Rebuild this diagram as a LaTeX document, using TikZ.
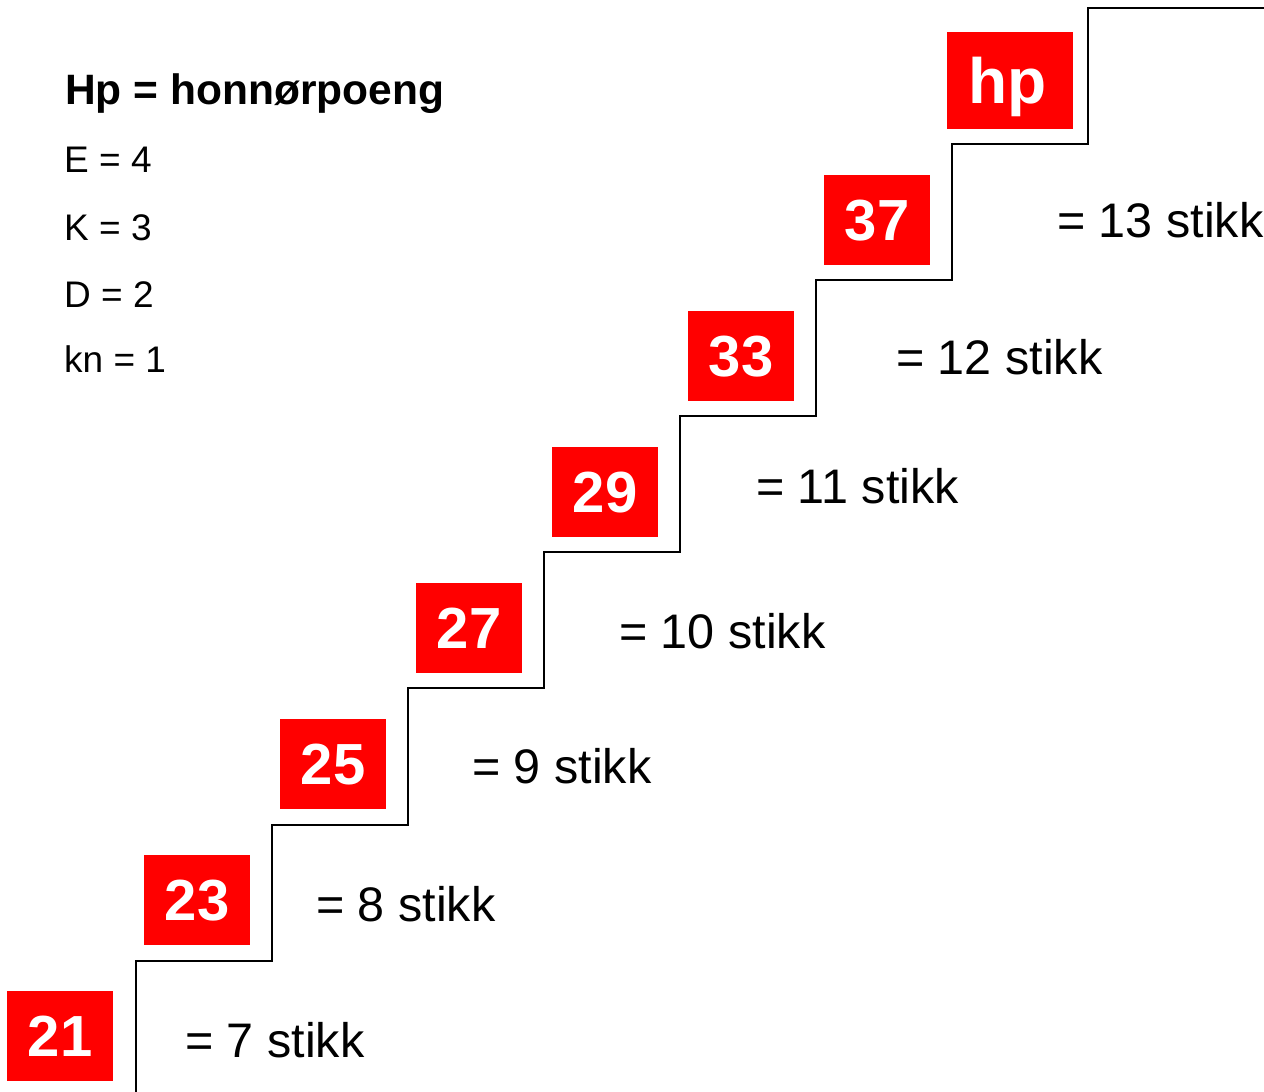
\documentclass[tikz,border=0pt]{standalone}
\usepackage{fontspec}
\setmainfont{Liberation Sans}
\definecolor{boxred}{RGB}{255,0,0}
\begin{document}
\begin{tikzpicture}[x=1pt,y=-1pt,
  redbox/.style={fill=boxred,draw=none,inner sep=0pt,minimum width=106pt,minimum height=90pt,anchor=north west,text=white,font=\bfseries\fontsize{58}{58}\selectfont},
  stikk/.style={anchor=base west,inner sep=0pt,font=\fontsize{48.5}{48.5}\selectfont},
  legend/.style={anchor=base west,inner sep=0pt,font=\fontsize{37}{37}\selectfont},
  stair/.style={line width=2pt,line join=miter}]
\useasboundingbox (0,0) rectangle (1264,1092);
% staircase
\draw[stair] (136,1092) -- (136,961) -- (272,961) -- (272,825) -- (408,825) -- (408,688)
  -- (544,688) -- (544,552) -- (680,552) -- (680,416) -- (816,416) -- (816,280)
  -- (952,280) -- (952,144) -- (1088,144) -- (1088,8) -- (1264,8);
% red boxes
\node[redbox] (b21) at (7,991) {21};
\node[redbox] (b23) at (144,855) {23};
\node[redbox] (b25) at (280,719) {25};
\node[redbox] (b27) at (416,583) {27};
\node[redbox] (b29) at (552,447) {29};
\node[redbox] (b33) at (688,311) {33};
\node[redbox] (b37) at (824,175) {37};
\node[redbox,minimum width=126pt,minimum height=97pt,font=\bfseries\fontsize{64}{64}\selectfont,text depth=0pt] (bhp) at (947,32) {\hspace*{-6pt}hp};
% stikk labels
\node[stikk] (s7) at (185,1057) {= 7 stikk};
\node[stikk] (s8) at (316,921) {= 8 stikk};
\node[stikk] (s9) at (472,783) {= 9 stikk};
\node[stikk] (s10) at (619,648) {= 10 stikk};
\node[stikk] (s11) at (756,503) {= 11 stikk};
\node[stikk] (s12) at (896,374) {= 12 stikk};
\node[stikk] (s13) at (1057,237) {= 13 stikk};
% legend
\node[anchor=base west,inner sep=0pt,font=\bfseries\fontsize{42.5}{42.5}\selectfont] (title) at (65,104) {Hp = honnørpoeng};
\node[legend] (le) at (64,172) {E = 4};
\node[legend] (lk) at (64,240) {K = 3};
\node[legend] (ld) at (64,307) {D = 2};
\node[legend] (lkn) at (64,372) {kn = 1};
\end{tikzpicture}
\end{document}
